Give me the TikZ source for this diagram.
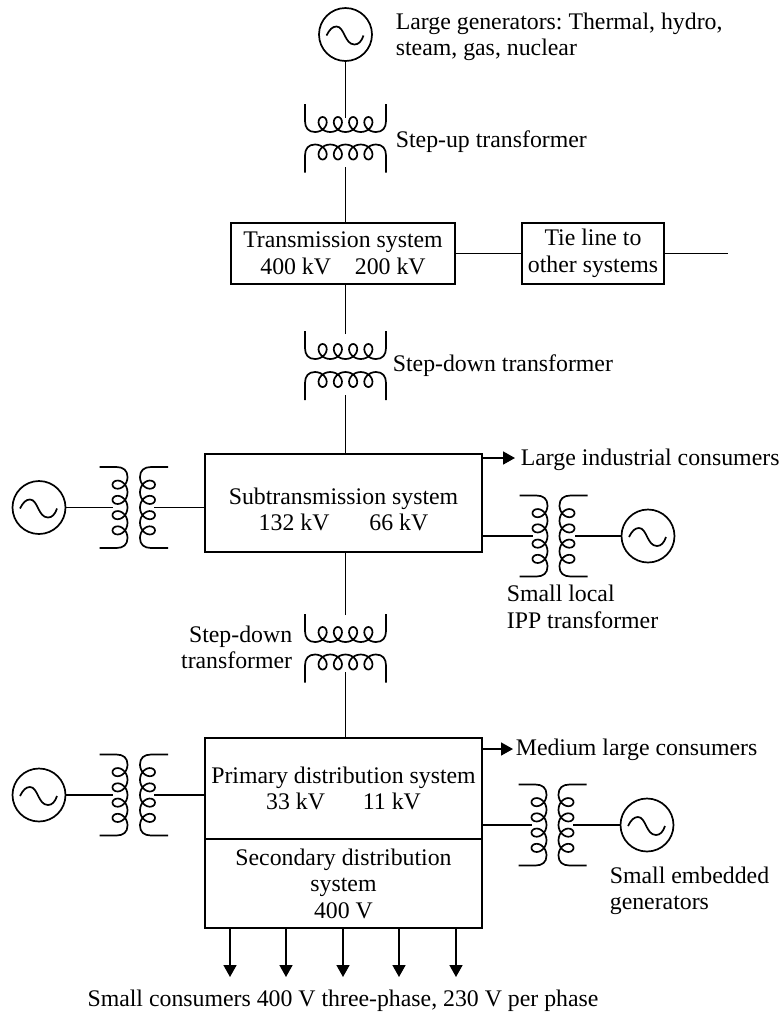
\documentclass[tikz,border=0pt]{standalone}
\usepackage{fontspec}
\setmainfont{Liberation Serif}
\usetikzlibrary{arrows.meta,positioning}
\tikzset{
  wind/.pic={
    \draw (-40.5,-14) -- (-40.5,3) .. controls (-40.5,10) and (-37,14) .. (-30.5,14)
      -- plot[smooth,samples=97,domain=0:1440,variable=\t] ({-30.5+\t/360*15.25+7.5*sin(\t)},{6.5+7.5*cos(\t)})
      .. controls (37,14) and (40.5,10) .. (40.5,3) -- (40.5,-14);
  }
}
\begin{document}
\begin{tikzpicture}[x=1pt,y=-1pt,line width=1.7pt,
  font=\fontsize{23.8}{26.5}\selectfont\frenchspacing,
  b/.style={draw,align=center,inner sep=0pt,outer sep=0pt},
  gen/.style={draw,circle,minimum size=53pt,inner sep=0pt,
    path picture={\draw[shift={(path picture bounding box.center)}]
      (-19,1) .. controls (-16,-5) and (-13,-8) .. (-9,-8)
      .. controls (-1,-8) and (-1,10) .. (9,10) .. controls (13,10) and (16,7) .. (18,1);}},
  lbl/.style={align=left,inner sep=0pt},
  arr/.style={-{Triangle[length=12pt,width=13pt]}}]
\useasboundingbox (0,0) rectangle (782,1013);
\node[gen] (gt) at (345.5,34.5) {};
\node[b,minimum width=224pt,minimum height=61pt] (tr) at (343,253.5) {Transmission system\\400 kV\quad 200 kV};
\node[b,minimum width=142pt,minimum height=61pt,right=67pt of tr] (tie) {Tie line to\\other systems};
\coordinate (tend) at (728,253.5);
\node[b,minimum width=277pt,minimum height=98pt] (ss) at (343.5,503) {\rule{0pt}{29pt}Subtransmission system\\132 kV\hspace{40pt}66 kV};
\node[b,minimum width=277pt,minimum height=101pt] (pd) at (343.5,788.5) {Primary distribution system\\33 kV\hspace{38pt}11 kV};
\node[b,minimum width=277pt,minimum height=89pt,below=0pt of pd] (sd) {Secondary distribution\\system\\400 V};
\node[gen] (gl1) at (39,507.5) {};
\node[gen] (gr1) at (648,536) {};
\node[gen] (gl2) at (39,795) {};
\node[gen] (gr2) at (647,825) {};
\pic at (345.5,118) {wind};
\pic[rotate=180] at (345.5,158.5) {wind};
\pic at (345.5,345) {wind};
\pic[rotate=180] at (345.5,386) {wind};
\pic at (345.5,628) {wind};
\pic[rotate=180] at (345.5,668.5) {wind};
\pic[rotate=90] at (113.5,507.5) {wind};
\pic[rotate=-90] at (154,507.5) {wind};
\pic[rotate=90] at (533.5,536) {wind};
\pic[rotate=-90] at (573.5,536) {wind};
\pic[rotate=90] at (113.5,795) {wind};
\pic[rotate=-90] at (154,795) {wind};
\pic[rotate=90] at (532.5,825) {wind};
\pic[rotate=-90] at (572.5,825) {wind};
\coordinate (t1i) at (345.5,118); \coordinate (t1o) at (345.5,167);
\coordinate (t2i) at (345.5,334); \coordinate (t2o) at (345.5,395);
\coordinate (t3i) at (345.5,615); \coordinate (t3o) at (345.5,672);
\coordinate (l1i) at (113,507.5); \coordinate (l1o) at (154,507.5);
\coordinate (r1i) at (533,536); \coordinate (r1o) at (575,536);
\coordinate (l2i) at (113,795); \coordinate (l2o) at (154,795);
\coordinate (r2i) at (532,825); \coordinate (r2o) at (573,825);
\coordinate (a1) at (515,458); \coordinate (a2) at (513,749);
\draw (gt) -- (t1i); \draw (t1o) -- (t1o |- tr.north);
\draw (t2i) -- (t2i |- tr.south); \draw (t2o) -- (t2o |- ss.north);
\draw (t3i) -- (t3i |- ss.south); \draw (t3o) -- (t3o |- pd.north);
\draw (tr) -- (tie); \draw (tie) -- (tend);
\draw (gl1) -- (l1i); \draw (l1o) -- (l1o -| ss.west);
\draw (r1i -| ss.east) -- (r1i); \draw (r1o) -- (gr1);
\draw (gl2) -- (l2i); \draw (l2o) -- (l2o -| pd.west);
\draw (r2i -| pd.east) -- (r2i); \draw (r2o) -- (gr2);
\draw[arr] (a1 -| ss.east) -- (a1); \draw[arr] (a2 -| pd.east) -- (a2);
\foreach \i/\x in {1/230,2/286,3/343,4/399,5/456} {
  \coordinate (c\i) at (\x,977);
  \draw[arr] (c\i |- sd.south) -- (c\i);
}
\node[lbl,anchor=west] (lg) at (395,37) {Large generators: Thermal, hydro,\\steam, gas, nuclear};
\node[lbl,anchor=base west] (lsu) at (395,147) {Step-up transformer};
\node[lbl,anchor=base west] (lsd) at (392,371) {Step-down transformer};
\node[lbl,anchor=west] (lli) at (520,459.5) {Large industrial consumers};
\node[lbl,anchor=west] (lip) at (506,607) {Small local\\IPP transformer};
\node[lbl,anchor=east,align=right] (lsd2) at (293,647.5) {Step-down\\transformer};
\node[lbl,anchor=west] (lml) at (515,750) {Medium large consumers};
\node[lbl,anchor=west] (lem) at (609,891) {Small embedded\\generators};
\node[lbl,anchor=base] (lsc) at (343,1006) {Small consumers 400 V three-phase, 230 V per phase};
\end{tikzpicture}
\end{document}
